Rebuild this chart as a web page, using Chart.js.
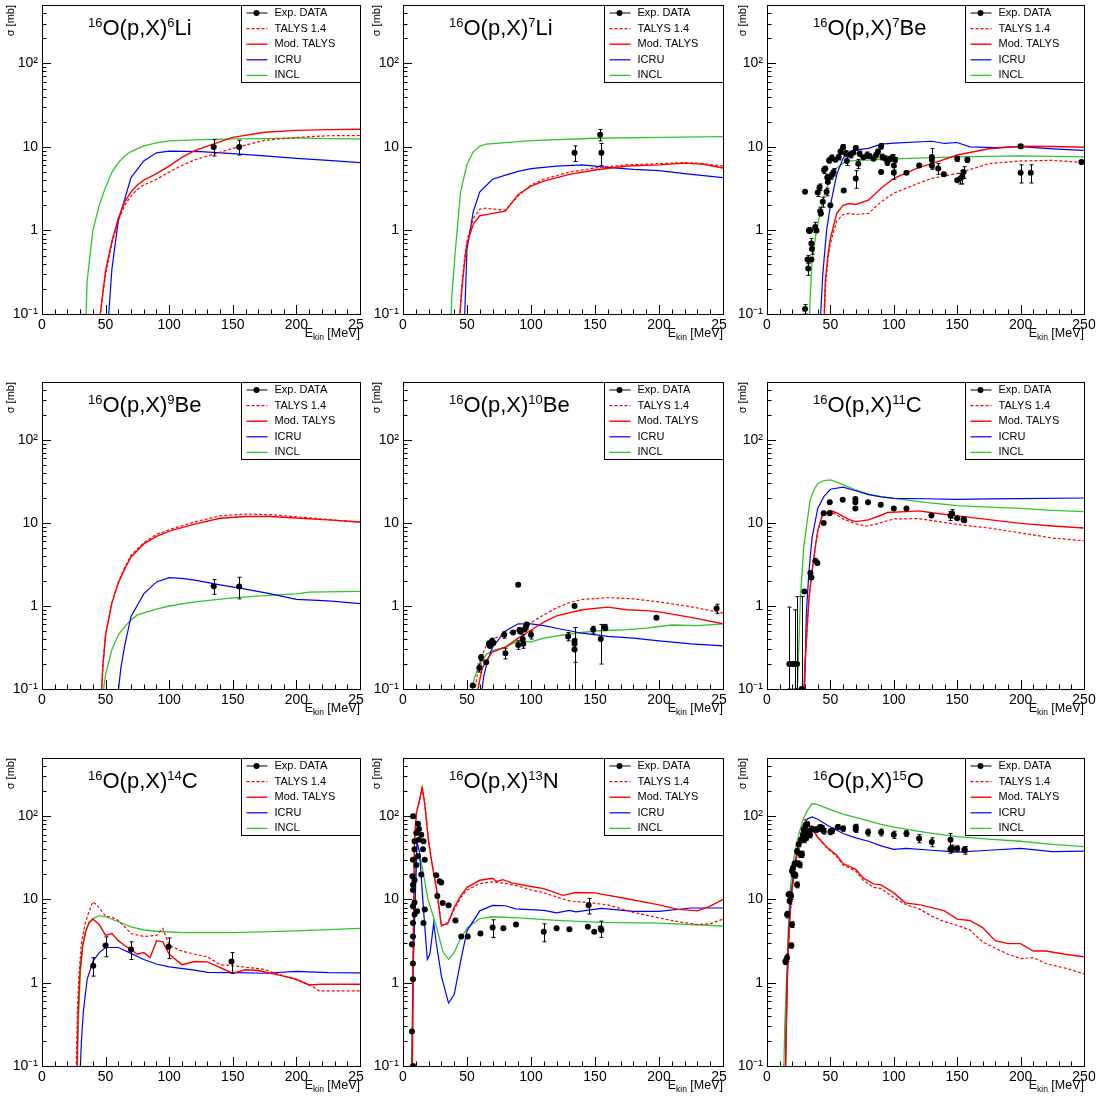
<!DOCTYPE html>
<html>
<head>
<meta charset="utf-8">
<title>16O(p,X) production cross sections</title>
<script src="https://cdn.jsdelivr.net/npm/chart.js@4.4.1/dist/chart.umd.min.js"></script>
<style>
  html, body { margin: 0; padding: 0; background: #ffffff; }
  #grid { position: relative; width: 1098px; height: 1098px; overflow: hidden; background: #ffffff; }
  #grid canvas { position: absolute; }
</style>
</head>
<body>
<div id="grid"></div>
<script>
// ---- 16O(p,X)6Li ----
const li6ExpE = [135, 155];
const li6ExpS = [10, 10];
const li6ExpErr = [2.2, 2.0];
const li6TalysE = [45, 50, 55, 60, 65, 70, 75, 80, 90, 100, 110, 120, 130, 150, 175, 200, 225, 250];
const li6TalysS = [0.08, 0.3, 0.7, 1.3, 2.0, 2.6, 3.1, 3.5, 4.1, 5.0, 6.0, 7.0, 7.8, 9.6, 12.0, 13.0, 13.6, 13.7];
const li6ModS = [0.08, 0.33, 0.75, 1.4, 2.2, 2.9, 3.5, 4.0, 4.8, 5.9, 7.5, 9.0, 10.2, 13.0, 15.0, 15.8, 16.1, 16.3];
const li6IcruE = [52, 55, 60, 70, 80, 90, 100, 125, 150, 175, 200, 225, 250];
const li6IcruS = [0.08, 0.35, 1.3, 4.3, 6.8, 8.5, 8.9, 8.8, 8.3, 7.8, 7.3, 6.9, 6.5];
const li6InclE = [34, 35.5, 40, 45, 50, 55, 60, 65, 70, 80, 90, 100, 125, 150, 175, 200, 225, 250];
const li6InclS = [0.05, 0.25, 1.0, 2.0, 3.3, 5.0, 6.5, 7.8, 8.8, 10.3, 11.2, 11.8, 12.2, 12.5, 12.6, 12.8, 12.6, 12.5];

// ---- 16O(p,X)7Li ----
const li7ExpE = [134, 154, 155];
const li7ExpS = [8.5, 14, 8.5];
const li7ExpErr = [1.8, 2.2, 2.5];
const li7TalysE = [44, 46, 48, 50, 55, 60, 65, 70, 80, 90, 100, 110, 130, 150, 175, 200, 220, 235, 250];
const li7TalysS = [0.08, 0.22, 0.45, 0.75, 1.4, 1.8, 1.85, 1.8, 1.75, 2.6, 3.5, 4.1, 5.0, 5.6, 6.1, 6.3, 6.5, 6.3, 5.9];
const li7ModS = [0.08, 0.2, 0.4, 0.7, 1.2, 1.5, 1.55, 1.6, 1.7, 2.7, 3.4, 3.9, 4.7, 5.3, 5.9, 6.1, 6.4, 6.2, 5.6];
const li7IcruE = [48, 50, 55, 60, 70, 80, 90, 100, 120, 140, 160, 180, 200, 220, 250];
const li7IcruS = [0.08, 0.6, 1.7, 2.9, 4.1, 4.6, 5.1, 5.5, 5.9, 6.1, 5.7, 5.4, 5.2, 4.8, 4.3];
const li7InclE = [37, 38, 41, 45, 50, 55, 60, 65, 100, 150, 200, 250];
const li7InclS = [0.05, 0.15, 0.6, 2.9, 6.2, 8.8, 10.2, 10.8, 11.9, 12.7, 13.0, 13.3];

// ---- 16O(p,X)7Be ----
const be7ExpE = [30, 30, 32, 32.5, 33, 34, 35, 35.5, 35, 38, 39, 40, 41.5, 42, 42.5, 44, 45, 46, 47, 47.5,
  48, 49, 50, 50.5, 51, 52.5, 54, 56.5, 58, 60, 60.5, 62, 63, 66, 68, 70, 70, 72, 73, 76,
  79, 81, 84, 86, 87.5, 90, 90, 91, 93, 95, 97, 99, 100, 100, 101, 110, 120, 130, 130, 130,
  135, 139.5, 150, 150, 152.5, 154, 155, 158, 200, 200, 208, 248];
const be7ExpS = [0.115, 2.9, 0.45, 0.35, 1.0, 1.0, 0.7, 0.6, 0.45, 1.1, 1.0, 2.85, 3.3, 1.7, 1.6, 2.2, 5.3, 5.5, 2.9, 4.3,
  3.8, 6.9, 2.0, 4.5, 7.4, 5.0, 7.0, 7.6, 8.8, 10.0, 3.0, 8.4, 6.8, 8.0, 8.5, 9.7, 4.2, 6.3, 8.3, 7.5,
  8.0, 7.8, 7.2, 8.0, 8.8, 10.2, 5.0, 7.6, 7.3, 6.5, 7.2, 7.6, 4.9, 6.0, 7.0, 4.9, 6.0, 7.6, 6.0, 7.0,
  5.5, 4.7, 7.2, 4.0, 4.2, 4.4, 5.0, 7.0, 10.2, 4.9, 4.9, 6.6];
const be7ExpErr = [0.015, 0, 0.05, 0.06, 0.08, 0, 0.1, 0.08, 0, 0.15, 0, 0.3, 0.3, 0.2, 0, 0.3, 0.5, 0, 0.3, 0.4,
  0, 0.5, 0, 0.4, 0.6, 0.5, 0, 0.6, 0.6, 0.7, 0, 0.6, 0.8, 0.6, 0, 0.6, 1.0, 0.8, 0.6, 0,
  0.7, 0, 0, 0.6, 0.6, 0.8, 0, 0.6, 0.5, 0.5, 0.5, 0.5, 0.8, 0.7, 0.5, 0, 0, 2.0, 0.6, 0,
  0.8, 0, 0.5, 0, 0.6, 0.8, 0.8, 0.5, 0.5, 1.2, 1.2, 0.3];
const be7TalysE = [45, 46, 48, 50, 55, 60, 65, 70, 80, 90, 100, 120, 130, 150, 175, 200, 225, 250];
const be7TalysS = [0.08, 0.2, 0.45, 0.7, 1.3, 1.55, 1.6, 1.55, 1.6, 2.2, 2.8, 3.7, 4.2, 4.8, 6.3, 6.8, 6.9, 6.5];
const be7ModS = [0.08, 0.25, 0.5, 0.8, 1.6, 2.0, 2.1, 2.05, 2.3, 3.2, 4.2, 5.7, 6.3, 8.0, 9.5, 10.2, 10.1, 9.9];
const be7IcruE = [42, 44, 47, 50, 55, 60, 65, 70, 80, 90, 100, 130, 140, 150, 160, 180, 200, 225, 250];
const be7IcruS = [0.08, 0.3, 1.0, 2.0, 4.7, 7.3, 8.8, 9.2, 9.6, 10.8, 11.1, 11.7, 11.0, 11.3, 10.0, 9.8, 10.1, 9.5, 9.1];
const be7InclE = [33, 34, 35.5, 39, 45, 50, 55, 60, 65, 100, 150, 200, 250];
const be7InclS = [0.05, 0.15, 0.43, 1.0, 2.6, 4.3, 5.6, 6.4, 6.8, 7.2, 7.6, 7.8, 7.6];

// ---- 16O(p,X)9Be ----
const be9ExpE = [135, 155];
const be9ExpS = [1.73, 1.72];
const be9ExpErr = [0.35, 0.5];
const be9TalysE = [46.5, 48, 50, 55, 60, 65, 70, 80, 90, 100, 120, 140, 160, 180, 200, 225, 250];
const be9TalysS = [0.08, 0.2, 0.45, 1.1, 1.95, 2.9, 4.1, 5.8, 7.3, 8.3, 10.3, 12.2, 12.8, 12.6, 11.9, 11.0, 10.2];
const be9ModS = [0.08, 0.2, 0.45, 1.1, 1.9, 2.8, 3.9, 5.6, 6.9, 8.0, 9.7, 11.4, 12.0, 12.0, 11.5, 10.9, 10.3];
const be9IcruE = [59.5, 62, 65, 70, 80, 90, 100, 110, 120, 140, 160, 180, 200, 225, 250];
const be9IcruS = [0.08, 0.18, 0.33, 0.75, 1.4, 1.95, 2.2, 2.15, 2.05, 1.8, 1.6, 1.4, 1.2, 1.15, 1.07];
const be9InclE = [47.5, 50, 55, 60, 65, 70, 75, 90, 100, 120, 150, 175, 200, 210, 250];
const be9InclS = [0.08, 0.15, 0.3, 0.45, 0.56, 0.68, 0.78, 0.92, 1.0, 1.12, 1.25, 1.33, 1.4, 1.47, 1.5];

// ---- 16O(p,X)10Be ----
const be10ExpE = [54.5, 59.7, 61, 65, 67, 68, 69.6, 70.6, 79, 80, 86, 90, 90, 91, 92, 93.5, 94, 95, 96, 96.6,
  100, 129, 134, 134, 134, 134, 148.6, 154.5, 157.7, 158, 198, 245];
const be10ExpS = [0.11, 0.18, 0.24, 0.21, 0.35, 0.33, 0.38, 0.36, 0.45, 0.27, 0.48, 1.8, 0.34, 0.51, 0.49, 0.4, 0.35, 0.52, 0.56, 0.6,
  0.45, 0.43, 1.0, 0.38, 0.35, 0.3, 0.52, 0.4, 0.56, 0.54, 0.72, 0.93];
const be10ExpErr = [0, 0.02, 0.02, 0, 0.03, 0, 0.03, 0, 0.04, 0.04, 0, 0, 0.04, 0.04, 0, 0.05, 0.04, 0, 0.04, 0,
  0.05, 0.05, 0, 0.17, 0.05, 0.25, 0.05, 0.2, 0.04, 0, 0, 0.12];
const be10TalysE = [55.5, 58, 61, 65, 70, 80, 90, 100, 110, 120, 130, 140, 160, 180, 200, 225, 250];
const be10TalysS = [0.08, 0.15, 0.24, 0.33, 0.4, 0.46, 0.52, 0.63, 0.78, 0.95, 1.1, 1.2, 1.26, 1.22, 1.12, 0.98, 0.82];
const be10ModE = [57.5, 60, 62, 65, 70, 80, 90, 100, 110, 120, 140, 160, 175, 190, 200, 225, 250];
const be10ModS = [0.08, 0.13, 0.18, 0.22, 0.28, 0.32, 0.41, 0.51, 0.64, 0.76, 0.9, 0.97, 0.9, 0.88, 0.85, 0.73, 0.61];
const be10IcruE = [61, 63, 66, 70, 80, 90, 100, 110, 120, 140, 160, 180, 200, 225, 250];
const be10IcruS = [0.08, 0.14, 0.22, 0.32, 0.5, 0.61, 0.61, 0.58, 0.54, 0.47, 0.43, 0.41, 0.38, 0.35, 0.33];
const be10InclE = [53, 56, 60, 65, 70, 80, 90, 100, 110, 130, 150, 175, 190, 210, 230, 250];
const be10InclS = [0.08, 0.14, 0.2, 0.26, 0.29, 0.32, 0.38, 0.37, 0.41, 0.46, 0.5, 0.52, 0.54, 0.59, 0.58, 0.61];

// ---- 16O(p,X)11C ----
const c11ExpE = [17.6, 19.7, 21.8, 23.7, 27.4, 29.5, 34.2, 35, 38.2, 39.7, 44.7, 44.7, 49.5, 49.5, 59.7, 69.7, 69.7, 69.7, 79.7, 89.7,
  100, 110, 129.7, 144.7, 146, 150, 155, 155.5];
const c11ExpS = [0.2, 0.2, 0.2, 0.2, 0.1, 1.5, 2.5, 2.2, 3.5, 3.3, 10, 13.1, 17.8, 13.1, 19, 19.4, 17.8, 15, 17.8, 16.6,
  15, 15, 12.3, 12.2, 13, 11.4, 11.0, 10.8];
const c11ExpErr = [0.77, 0, 0.7, 1.1, 1.2, 0, 0, 0, 0, 0, 0, 0, 0, 0, 0, 0, 0, 0, 0, 0,
  0, 0, 0, 1.5, 1.5, 0, 0.8, 0];
const c11TalysE = [29, 30, 31.5, 33, 35.5, 38, 40, 43.5, 50, 55, 60, 70, 78, 85, 100, 120, 130, 150, 175, 200, 225, 250];
const c11TalysS = [0.08, 0.2, 0.5, 1.2, 2.6, 5.0, 8.0, 12.3, 13.8, 12.5, 11.2, 9.8, 9.2, 9.6, 11.2, 11.3, 10.7, 9.6, 8.7, 7.6, 6.6, 6.1];
const c11ModE = [29, 30, 31.5, 33, 35.5, 38, 40, 43.5, 50, 55, 60, 65, 70, 80, 90, 95, 110, 120, 130, 150, 175, 200, 225, 250];
const c11ModS = [0.08, 0.2, 0.5, 1.2, 2.6, 5.0, 8.0, 12.3, 14.2, 13.2, 12, 11, 10.4, 10.9, 12.4, 13.4, 13.7, 14, 13.3, 12.2, 11, 9.9, 9.2, 8.7];
const c11IcruE = [29.5, 31, 33, 35.5, 40, 45, 50, 60, 70, 80, 90, 100, 125, 150, 175, 200, 250];
const c11IcruS = [0.08, 0.8, 2.5, 6.6, 15, 21, 25.5, 27, 24.5, 22, 20.6, 19.8, 19.6, 19.3, 19.5, 19.7, 20];
const c11InclE = [23.7, 25, 26.3, 29, 34, 37, 40, 45, 50, 55, 60, 70, 80, 90, 100, 125, 150, 175, 200, 225, 250];
const c11InclS = [0.08, 0.3, 1.2, 5.2, 19, 25, 29.7, 32.5, 33, 31, 29, 25, 22.3, 20.8, 19.8, 17.7, 16.2, 15.5, 15, 14.2, 13.7];

// ---- 16O(p,X)14C ----
const c14ExpE = [40.3, 50, 70, 99.5, 149];
const c14ExpS = [1.6, 2.8, 2.5, 2.7, 1.8];
const c14ExpErr = [0.4, 0.75, 0.6, 0.75, 0.5];
const c14TalysE = [26.8, 28, 29, 31, 34, 37, 40, 45, 50, 55, 60, 65, 70, 80, 90, 95, 100, 110, 120, 130, 140, 150, 175, 180, 195, 210, 218, 250];
const c14TalysS = [0.08, 0.5, 1.2, 3.0, 5.2, 7.2, 9.4, 8.0, 6.3, 6.1, 5.6, 4.7, 3.9, 3.6, 3.7, 4.5, 2.8, 2.4, 2.2, 2.05, 1.65, 1.6, 1.45, 1.35, 1.15, 0.95, 0.8, 0.8];
const c14ModE = [27.3, 28.5, 30, 32, 34.5, 37, 40, 45, 50, 55, 60, 65, 70, 75, 80, 85, 90, 95, 100, 110, 120, 130, 150, 160, 170, 190, 200, 210, 220, 250];
const c14ModS = [0.08, 0.5, 1.5, 2.8, 4.2, 5.3, 5.8, 5.0, 3.7, 3.9, 3.2, 2.8, 2.5, 2.2, 2.3, 2.0, 3.2, 3.1, 2.2, 1.65, 1.8, 1.78, 1.3, 1.43, 1.4, 1.2, 1.1, 0.94, 0.96, 0.96];
const c14IcruE = [29.9, 31, 32.5, 35.5, 40, 45, 50, 60, 70, 80, 90, 100, 120, 130, 150, 175, 200, 225, 250];
const c14IcruS = [0.08, 0.2, 0.45, 1.1, 1.8, 2.3, 2.65, 2.65, 2.25, 1.9, 1.68, 1.55, 1.42, 1.33, 1.32, 1.3, 1.37, 1.32, 1.31];
const c14InclE = [27.8, 28.5, 30, 32, 34, 37, 40, 45, 50, 60, 70, 80, 90, 110, 150, 200, 250];
const c14InclS = [0.08, 0.3, 1.2, 2.8, 4.0, 5.2, 5.9, 6.4, 6.2, 5.4, 4.7, 4.3, 4.15, 4.0, 4.0, 4.2, 4.5];

// ---- 16O(p,X)13N ----
const n13ExpE = [7.8, 11.7, 12.5, 10.4, 14.3, 9, 12.5, 16, 9, 15.6, 11.7, 7.8, 17, 10.4, 14.3, 7.3, 9, 26, 7.8, 28.6,
  29.9, 7.8, 26.8, 9, 7.8, 31, 35.6, 11, 9, 7.8, 17, 16, 41, 7.8, 7, 7.8, 7.8, 7, 7.8, 45.5,
  50.6, 60.5, 70, 78.4, 88.3, 110, 120, 130, 145, 144.4, 149.4, 154.5, 155];
const n13ExpS = [100, 81, 70, 63, 60, 50, 52, 50, 40, 40, 33, 30, 30, 26, 20, 19, 17, 19.5, 15, 16.5,
  16, 13, 11, 9.2, 8.3, 9.1, 8.5, 7.2, 6.6, 5.2, 7.6, 5.2, 5.6, 3.6, 2.9, 1.7, 1.1, 0.26, 0.1, 3.6,
  3.6, 3.9, 4.6, 4.5, 5.0, 4.1, 4.5, 4.4, 8.5, 4.7, 4.1, 4.5, 4.3];
const n13ExpErr = [0, 0, 0, 0, 0, 0, 0, 0, 0, 0, 0, 0, 0, 0, 0, 0, 0, 0, 0, 0,
  0, 0, 0, 0, 0, 0, 0, 0, 0, 0, 0, 0, 0, 0, 0, 0, 0, 0, 0, 0,
  0, 0, 1.1, 0, 0, 1.0, 0, 0, 1.8, 0, 0, 1.0, 0];
const n13TalysE = [7.3, 8, 9, 10.5, 13, 15, 17, 20, 23, 26, 30, 35, 40, 45, 50, 60, 70, 80, 90, 100, 110, 130, 150, 160, 180, 200, 215, 230, 240, 250];
const n13TalysS = [0.08, 3, 50, 115, 150, 230, 140, 50, 25, 14, 4.8, 5.3, 7.5, 10.5, 13, 15.5, 16.3, 15.6, 14.5, 13, 12, 9.6, 9.0, 8.6, 7.0, 6.0, 5.4, 5.0, 5.1, 5.8];
const n13ModE = [7.3, 8, 9, 10.5, 13, 15, 17, 20, 23, 26, 30, 35, 40, 45, 50, 60, 70, 73, 78, 85, 100, 110, 125, 135, 150, 175, 200, 215, 230, 240, 250];
const n13ModS = [0.08, 3, 52, 110, 160, 220, 140, 50, 25, 14, 4.9, 5.1, 8, 11, 14, 17, 18, 16.5, 17.3, 15.8, 14.3, 13.5, 11.2, 12.1, 12, 10.2, 8.6, 7.6, 7.3, 8.3, 10];
const n13IcruE = [7, 8, 9, 10.9, 13, 16, 19, 21, 24, 26, 30, 35.6, 40, 45, 50, 60, 70, 80, 88, 110, 120, 130, 135, 155, 180, 200, 225, 250];
const n13IcruS = [0.08, 1.5, 5.2, 50, 36, 7.6, 1.9, 2.2, 5.2, 3.0, 1.2, 0.57, 0.72, 1.8, 4.2, 7.3, 8.5, 8.4, 7.7, 7.4, 6.9, 7.4, 7.1, 7.8, 7.2, 7.2, 7.9, 7.9];
const n13InclE = [6.5, 8, 9.6, 10.9, 14.3, 19.5, 26, 31, 35.6, 40, 45, 50.6, 60, 70, 90, 120, 155, 200, 250];
const n13InclS = [0.08, 2, 15, 36, 28, 10, 4.8, 2.4, 1.9, 2.3, 3.4, 4.6, 5.9, 6.2, 6.0, 5.6, 5.3, 5.2, 4.8];

// ---- 16O(p,X)15O ----
const o15ExpE = [14.5, 15.8, 15.8, 17, 17.8, 19, 19.2, 19.7, 19.7, 20.5, 21, 21.8, 22.4, 23.7, 23.7, 24.5, 25, 25.8, 26.3, 26.8,
  27.6, 28.4, 29, 29.5, 30.3, 31, 31.6, 32.4, 33.4, 34, 35.5, 39, 40.8, 42, 43.4, 44.7, 50, 51.3, 55.8, 60,
  70, 70, 79.7, 90, 100, 110, 120, 130, 144.7, 144.7, 146, 150, 155.8, 155.8];
const o15ExpS = [1.8, 2.0, 6.6, 11.5, 9.6, 11, 2.8, 5.0, 22, 24, 20, 27, 19.5, 15, 38, 27, 46, 26, 35, 52,
  35, 60, 69, 52, 76, 55, 80, 63, 66, 60, 70, 69, 71, 74, 72, 66, 65, 67, 74, 71,
  74, 69, 64, 64, 60, 62, 54, 49, 52, 40, 41, 41, 39, 40];
const o15ExpErr = [0.15, 0.2, 0.6, 1, 0.8, 1, 0.2, 0.4, 1.5, 2, 1.5, 2, 1.5, 1.2, 3, 2, 3, 2, 3, 4,
  3, 4, 5, 4, 5, 4, 5, 5, 5, 5, 5, 5, 5, 5, 5, 5, 5, 5, 5, 5,
  6, 5, 6, 6, 6, 5, 6, 6, 10, 4, 4, 3, 4, 3];
const o15TalysE = [14.5, 15.8, 17, 18.4, 20, 22, 24, 27.6, 30, 33, 36, 39.5, 47.5, 55, 60, 70, 76, 84, 90, 100,
  110, 120, 130, 140, 150, 160, 170, 180, 190, 200, 210, 220, 235, 250];
const o15TalysS = [0.08, 0.86, 3, 7.2, 14, 25, 40, 70, 92, 85, 74, 58, 41, 33, 26, 22, 17, 14, 13.5, 10.5,
  8.6, 7.7, 6.3, 5.4, 4.9, 4.3, 3.1, 2.6, 2.2, 1.95, 2.0, 1.7, 1.5, 1.28];
const o15ModE = [14.5, 15.8, 17, 18.4, 20, 22, 24, 27.6, 31, 34, 39.5, 47.5, 55, 60, 70, 76, 84, 90, 100, 109,
  121, 140, 150, 160, 170, 180, 190, 200, 210, 220, 235, 250];
const o15ModS = [0.08, 0.86, 3, 7.2, 14, 24, 37, 63, 80, 76, 57, 42, 34, 27, 23, 18, 15.4, 15, 12, 9.1,
  8.6, 7.3, 5.8, 5.6, 4.6, 3.2, 2.95, 2.95, 2.4, 2.4, 2.2, 2.05];
const o15IcruE = [14.5, 15.8, 17, 18.4, 20, 22, 24, 27, 29, 32, 35.5, 40, 50, 60, 70, 80, 90, 100, 110, 130, 140, 150, 175, 200, 225, 250];
const o15IcruS = [0.08, 0.95, 3.5, 9.6, 16, 27, 40, 60, 80, 93, 98, 92, 74, 62, 55, 50, 44, 40, 41, 39, 38, 37, 39, 41, 37.5, 38];
const o15InclE = [13.2, 14, 15.3, 16.5, 18.4, 20, 22, 24, 27, 29, 32, 35.5, 40, 50, 60, 75, 90, 100, 125, 150, 175, 200, 225, 250];
const o15InclS = [0.08, 0.3, 0.95, 3.5, 13.5, 24, 37, 52, 77, 95, 118, 142, 138, 120, 106, 92, 80, 74, 64, 57, 53, 50, 46, 43];

// axis ticks
const yTickValues = [0.1, 1, 10, 100];
const yTickLabels = ['10⁻¹', '1', '10', '10²'];
const seriesLabels = ['Exp. DATA', 'TALYS 1.4', 'Mod. TALYS', 'ICRU', 'INCL'];

const panels = [
  { mass: '6', sym: 'Li', exp: [li6ExpE, li6ExpS, li6ExpErr], talys: [li6TalysE, li6TalysS], mod: [li6TalysE, li6ModS], icru: [li6IcruE, li6IcruS], incl: [li6InclE, li6InclS] },
  { mass: '7', sym: 'Li', exp: [li7ExpE, li7ExpS, li7ExpErr], talys: [li7TalysE, li7TalysS], mod: [li7TalysE, li7ModS], icru: [li7IcruE, li7IcruS], incl: [li7InclE, li7InclS] },
  { mass: '7', sym: 'Be', exp: [be7ExpE, be7ExpS, be7ExpErr], talys: [be7TalysE, be7TalysS], mod: [be7TalysE, be7ModS], icru: [be7IcruE, be7IcruS], incl: [be7InclE, be7InclS] },
  { mass: '9', sym: 'Be', exp: [be9ExpE, be9ExpS, be9ExpErr], talys: [be9TalysE, be9TalysS], mod: [be9TalysE, be9ModS], icru: [be9IcruE, be9IcruS], incl: [be9InclE, be9InclS] },
  { mass: '10', sym: 'Be', exp: [be10ExpE, be10ExpS, be10ExpErr], talys: [be10TalysE, be10TalysS], mod: [be10ModE, be10ModS], icru: [be10IcruE, be10IcruS], incl: [be10InclE, be10InclS] },
  { mass: '11', sym: 'C', exp: [c11ExpE, c11ExpS, c11ExpErr], talys: [c11TalysE, c11TalysS], mod: [c11ModE, c11ModS], icru: [c11IcruE, c11IcruS], incl: [c11InclE, c11InclS] },
  { mass: '14', sym: 'C', exp: [c14ExpE, c14ExpS, c14ExpErr], talys: [c14TalysE, c14TalysS], mod: [c14ModE, c14ModS], icru: [c14IcruE, c14IcruS], incl: [c14InclE, c14InclS] },
  { mass: '13', sym: 'N', exp: [n13ExpE, n13ExpS, n13ExpErr], talys: [n13TalysE, n13TalysS], mod: [n13ModE, n13ModS], icru: [n13IcruE, n13IcruS], incl: [n13InclE, n13InclS] },
  { mass: '15', sym: 'O', exp: [o15ExpE, o15ExpS, o15ExpErr], talys: [o15TalysE, o15TalysS], mod: [o15ModE, o15ModS], icru: [o15IcruE, o15IcruS], incl: [o15InclE, o15InclS] }
];

const FONT = '"Liberation Sans", Arial, Helvetica, sans-serif';
const RED = '#ff0000';
const BLUE = '#0000ff';
const GREEN = '#2fc42f';

// page layout: 3x3 pads, frame edges in page pixels
const padSize = 366;
const padWidth = [364, 361, 366];
const plotLeft = [42, 403, 767];
const plotRight = [362, 724, 1084];
const plotTop = [5, 382, 758];
const plotBottom = [314, 689, 1066];

const pts = (xs, ys) => xs.map((x, i) => ({ x, y: ys[i] }));

const errorBarPlugin = {
  id: 'errorBars',
  afterDatasetsDraw(chart) {
    const ds = chart.data.datasets[0];
    if (!ds.errors) return;
    const { ctx, chartArea: a, scales: { x, y } } = chart;
    ctx.save();
    ctx.beginPath();
    ctx.rect(a.left, a.top, a.width, a.height);
    ctx.clip();
    ctx.strokeStyle = '#000';
    ctx.lineWidth = 1;
    ds.data.forEach((p, i) => {
      const e = ds.errors[i];
      if (!e) return;
      const px = Math.round(x.getPixelForValue(p.x)) + 0.5;
      const top = y.getPixelForValue(p.y + e);
      const lo = p.y - e;
      const bottom = lo > 0 ? y.getPixelForValue(lo) : a.bottom;
      ctx.beginPath();
      ctx.moveTo(px, top);
      ctx.lineTo(px, bottom);
      ctx.moveTo(px - 2, top);
      ctx.lineTo(px + 2, top);
      ctx.moveTo(px - 2, bottom);
      ctx.lineTo(px + 2, bottom);
      ctx.stroke();
    });
    ctx.restore();
  }
};

// ROOT style frame with inward tick marks
const framePlugin = {
  id: 'frame',
  afterDatasetsDraw(chart) {
    const { ctx, chartArea: a, scales: { x, y } } = chart;
    ctx.save();
    ctx.strokeStyle = '#000';
    ctx.lineWidth = 1;
    ctx.beginPath();
    for (let v = 0; v <= 250; v += 10) {
      const px = Math.round(x.getPixelForValue(v)) + 0.5;
      const len = v % 50 === 0 ? 9 : 4.5;
      ctx.moveTo(px, a.bottom);
      ctx.lineTo(px, a.bottom - len);
    }
    for (let d = -1; d <= 2; d++) {
      for (let k = 1; k <= 9; k++) {
        const v = k * Math.pow(10, d);
        if (v > 500) break;
        const py = Math.round(y.getPixelForValue(v)) + 0.5;
        ctx.moveTo(a.left, py);
        ctx.lineTo(a.left + (k === 1 ? 9 : 4.5), py);
      }
    }
    ctx.stroke();
    ctx.strokeRect(Math.round(a.left) + 0.5, Math.round(a.top) + 0.5, Math.round(a.width), Math.round(a.height));
    ctx.restore();
  }
};

function drawParts(ctx, parts, x, base) {
  parts.forEach(([text, size, dy]) => {
    ctx.font = size + 'px ' + FONT;
    ctx.fillText(text, x, base + dy);
    x += ctx.measureText(text).width;
  });
}

function partsWidth(ctx, parts) {
  return parts.reduce((w, [text, size]) => {
    ctx.font = size + 'px ' + FONT;
    return w + ctx.measureText(text).width;
  }, 0);
}

const labelsPlugin = {
  id: 'reaction',
  afterDraw(chart, args, opts) {
    const { ctx, chartArea: a } = chart;
    ctx.save();
    ctx.fillStyle = '#000';
    ctx.textAlign = 'left';
    ctx.textBaseline = 'alphabetic';
    // reaction title
    drawParts(ctx, [['16', 13, -8], ['O(p,X)', 22, 0], [opts.mass, 13, -8], [opts.sym, 22, 0]], a.left + 46, a.top + 30);
    // x axis title
    const xt = [['E', 12.5, 0], ['kin', 8.5, 3], [' [MeV]', 12.5, 0]];
    drawParts(ctx, xt, a.right - partsWidth(ctx, xt), a.bottom + 23);

    // legend box
    const w = 119, h = 77;
    const bx = Math.round(a.right - w) + 0.5;
    const by = Math.round(a.top) + 0.5;
    ctx.fillStyle = '#fff';
    ctx.fillRect(bx, by, w, h);
    ctx.strokeStyle = '#000';
    ctx.lineWidth = 1;
    ctx.strokeRect(bx, by, w, h);
    ctx.font = '11px ' + FONT;
    ctx.textBaseline = 'middle';
    chart.data.datasets.forEach((ds, i) => {
      const ly = by + 7.5 + i * 15.6;
      ctx.strokeStyle = ds.borderColor;
      ctx.lineWidth = ds.borderWidth;
      ctx.setLineDash(ds.borderDash || []);
      ctx.beginPath();
      ctx.moveTo(bx + 5, ly);
      ctx.lineTo(bx + 26, ly);
      ctx.stroke();
      ctx.setLineDash([]);
      if (ds.pointRadius) {
        ctx.fillStyle = '#000';
        ctx.beginPath();
        ctx.arc(bx + 15, ly, 3, 0, Math.PI * 2);
        ctx.fill();
      }
      ctx.fillStyle = '#000';
      ctx.fillText(ds.label, bx + 33, ly);
    });
    ctx.restore();
  }
};

Chart.defaults.font.family = FONT;
Chart.defaults.color = '#000';

const grid = document.getElementById('grid');

panels.forEach((p, idx) => {
  const c = idx % 3;
  const r = Math.floor(idx / 3);
  const padLeft = c * padSize;
  const padTop = r * padSize;
  const canvas = document.createElement('canvas');
  canvas.width = padWidth[c];
  canvas.height = padSize;
  canvas.style.left = padLeft + 'px';
  canvas.style.top = padTop + 'px';
  grid.appendChild(canvas);

  const yAxisWidth = plotLeft[c] - padLeft;
  const xAxisHeight = padTop + padSize - plotBottom[r];

  new Chart(canvas, {
    type: 'line',
    data: {
      datasets: [
        {
          label: seriesLabels[0],
          data: pts(p.exp[0], p.exp[1]),
          errors: p.exp[2],
          showLine: false,
          borderColor: '#000',
          borderWidth: 1,
          pointRadius: 3,
          pointBackgroundColor: '#000',
          pointBorderColor: '#000',
          pointBorderWidth: 0
        },
        { label: seriesLabels[1], data: pts(p.talys[0], p.talys[1]), borderColor: RED, borderWidth: 1.2, borderDash: [3, 2], pointRadius: 0 },
        { label: seriesLabels[2], data: pts(p.mod[0], p.mod[1]), borderColor: RED, borderWidth: 1.4, pointRadius: 0 },
        { label: seriesLabels[3], data: pts(p.icru[0], p.icru[1]), borderColor: BLUE, borderWidth: 1.2, pointRadius: 0 },
        { label: seriesLabels[4], data: pts(p.incl[0], p.incl[1]), borderColor: GREEN, borderWidth: 1.3, pointRadius: 0 }
      ]
    },
    options: {
      responsive: false,
      animation: false,
      devicePixelRatio: 1,
      layout: {
        padding: { top: plotTop[r] - padTop, right: padLeft + padWidth[c] - plotRight[c], left: 0, bottom: 0 }
      },
      plugins: {
        legend: { display: false },
        tooltip: { enabled: false },
        reaction: { mass: p.mass, sym: p.sym }
      },
      scales: {
        x: {
          type: 'linear',
          min: 0,
          max: 250,
          grid: { display: false, drawTicks: false },
          border: { display: false },
          ticks: { stepSize: 50, padding: 3, maxRotation: 0, autoSkip: false, color: '#000', font: { size: 14 } },
          afterFit(scale) {
            scale.height = xAxisHeight;
            scale.paddingLeft = 0;
            scale.paddingRight = 0;
          }
        },
        y: {
          type: 'logarithmic',
          min: 0.1,
          max: 500,
          grid: { display: false, drawTicks: false },
          border: { display: false },
          afterBuildTicks(scale) {
            scale.ticks = yTickValues.map((v) => ({ value: v }));
          },
          ticks: {
            padding: 4,
            autoSkip: false,
            color: '#000',
            font: { size: 14 },
            callback(value) {
              const i = yTickValues.indexOf(value);
              return i >= 0 ? yTickLabels[i] : '';
            }
          },
          title: {
            display: true,
            text: 'σ [mb]',
            align: 'end',
            color: '#000',
            font: { size: 11 },
            padding: { top: 4, bottom: 0 }
          },
          afterFit(scale) {
            scale.width = yAxisWidth;
            scale.paddingTop = 0;
            scale.paddingBottom = 0;
          }
        }
      }
    },
    plugins: [errorBarPlugin, framePlugin, labelsPlugin]
  });
});
</script>
</body>
</html>
